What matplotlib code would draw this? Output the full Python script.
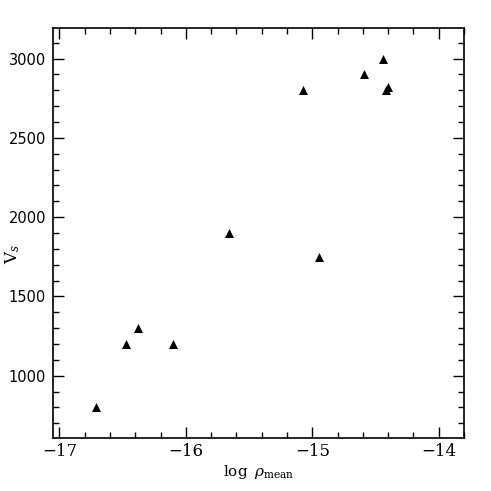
import matplotlib
matplotlib.use("Agg")
from matplotlib import pyplot as plt
from matplotlib.ticker import MultipleLocator

plt.rcParams['mathtext.fontset'] = 'dejavuserif'

# data
log_rho = [-16.71, -16.47, -16.38, -16.10, -15.66, -15.07, -14.95,
           -14.59, -14.44, -14.42, -14.40]
v_s = [800, 1200, 1300, 1200, 1900, 2800, 1750, 2900, 3000, 2800, 2820]

x_ticks = [-17, -16, -15, -14]
y_ticks = [1000, 1500, 2000, 2500, 3000]

fig = plt.figure(figsize=(4.91, 4.91), dpi=100)
ax = fig.add_axes([0.108, 0.108, 0.837, 0.834])

ax.scatter(log_rho, v_s, marker='^', s=42, color='black', linewidths=0)

ax.set_xlim(-17.05, -13.80)
ax.set_ylim(607, 3190)
ax.set_xticks(x_ticks)
ax.set_yticks(y_ticks)
ax.set_xticklabels(['\u221217', '\u221216', '\u221215', '\u221214'],
                   family='DejaVu Serif', fontsize=12)
ax.set_yticklabels([str(v) for v in y_ticks], family='DejaVu Sans', fontsize=10.5)
ax.xaxis.set_minor_locator(MultipleLocator(0.2))
ax.yaxis.set_minor_locator(MultipleLocator(100))
ax.tick_params(which='both', direction='in', top=True, right=True, width=1.0)
ax.tick_params(which='major', length=8)
ax.tick_params(which='minor', length=4)
ax.tick_params(axis='y', pad=5)
for sp in ax.spines.values():
    sp.set_linewidth(1.2)

ax.set_xlabel(r'$\log\ \rho_{\rm mean}$', fontsize=11)
ax.xaxis.set_label_coords(0.5, -0.062)
ax.set_ylabel(r'$\mathrm{V}_s$', fontsize=12)
ax.yaxis.set_label_coords(-0.075, 0.45)

fig.savefig('out.png', dpi=100)
